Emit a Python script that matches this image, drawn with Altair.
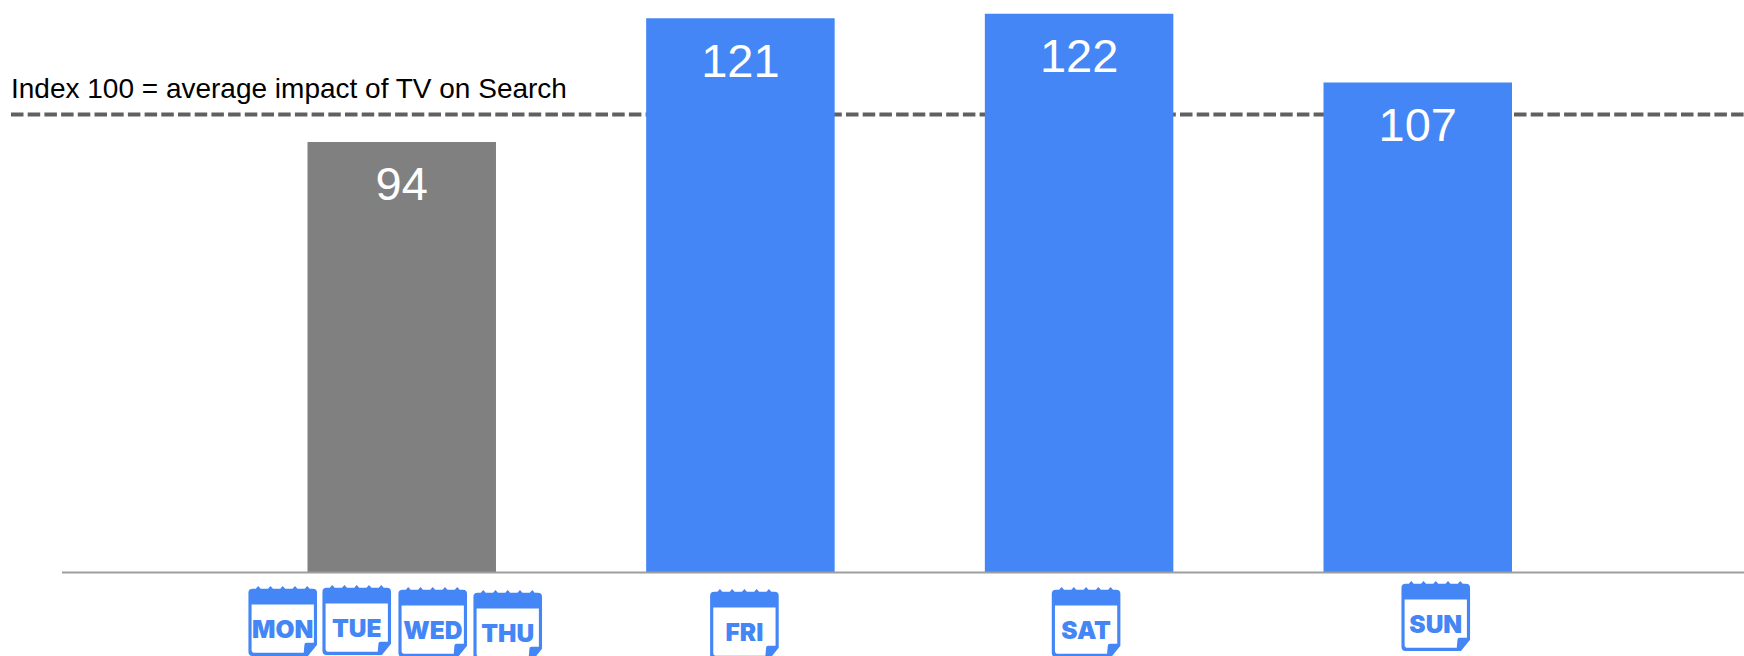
import altair as alt
import pandas as pd

# Bar values and their labels
groups = ["Mon-Thu", "Fri", "Sat", "Sun"]
index_values = [94, 121, 122, 107]
bar_colors = ["#808080", "#4486F5", "#4486F5", "#4486F5"]

# Day badges sitting under the bars
badge_days = ["MON", "TUE", "WED", "THU", "FRI", "SAT", "SUN"]
badge_groups = ["Mon-Thu", "Mon-Thu", "Mon-Thu", "Mon-Thu", "Fri", "Sat", "Sun"]

REFERENCE_INDEX = 100
REFERENCE_NOTE = "Index 100 = average impact of TV on Search"

# Badge placement relative to the centre of each group's band
BADGE_DX = [-119, -45, 31, 106, 4, 7, 18]
BADGE_TOP = [586, 585, 587, 590, 589, 587, 581]

BLUE = "#4486F5"
FONT = "Liberation Sans"

# Calendar page: binding nubs on top, a solid header, a curled lower right corner
CALENDAR = (
    "M-0.98,-0.8 Q-0.98,-0.92 -0.86,-0.92 H-0.77 L-0.7,-1 L-0.63,-0.92 "
    "H-0.42 L-0.35,-1 L-0.28,-0.92 H-0.07 L0,-1 L0.07,-0.92 "
    "H0.28 L0.35,-1 L0.42,-0.92 H0.63 L0.7,-1 L0.77,-0.92 "
    "H0.86 Q0.98,-0.92 0.98,-0.8 V0.68 L0.72,1 H-0.86 Q-0.98,1 -0.98,0.88 Z "
    "M-0.89,-0.47 V0.82 Q-0.89,0.91 -0.8,0.91 H0.6 L0.62,0.68 "
    "Q0.62,0.62 0.68,0.62 H0.89 V-0.47 Z"
)

bars = pd.DataFrame({"group": groups, "value": index_values, "color": bar_colors})

x_scale = alt.Scale(domain=groups, range=[232.4, 1587.1], paddingInner=0.44, paddingOuter=0.22)
y_scale = alt.Scale(domain=[0, 125], range=[572.5, 0], nice=False, zero=True)
x_enc = alt.X("group:N", scale=x_scale, axis=None, sort=groups)
y_enc = alt.Y("value:Q", scale=y_scale, axis=None)

reference = alt.Chart(pd.DataFrame({"value": [REFERENCE_INDEX]})).mark_rule(
    color="#606060", strokeWidth=4, strokeDash=[12.5, 4.2]
).encode(x=alt.value(11), x2=alt.value(1744), y=y_enc)

note = alt.Chart(pd.DataFrame({"value": [REFERENCE_INDEX], "text": [REFERENCE_NOTE]})).mark_text(
    align="left", baseline="alphabetic", font=FONT, fontSize=28, color="#000000", dy=-17
).encode(x=alt.value(11), y=y_enc, text="text:N")

bar_layer = alt.Chart(bars).mark_bar(size=188.5).encode(
    x=x_enc, y=y_enc, y2=alt.datum(0), color=alt.Color("color:N", scale=None)
)

value_labels = alt.Chart(bars).mark_text(
    baseline="alphabetic", font=FONT, fontSize=47, color="#ffffff", dy=58.5
).encode(x=x_enc, y=y_enc, text="value:Q")

baseline = alt.Chart(pd.DataFrame({"value": [0]})).mark_rule(
    color="#9E9E9E", strokeWidth=2
).encode(x=alt.value(62), x2=alt.value(1744), y=y_enc)

layers = [reference, note, bar_layer, value_labels, baseline]

# One calendar badge per day, anchored to the band of its group
for day, group, dx, top in zip(badge_days, badge_groups, BADGE_DX, BADGE_TOP):
    row = pd.DataFrame({"group": [group], "day": [day]})
    layers.append(
        alt.Chart(row).mark_point(
            shape=CALENDAR, filled=True, fill=BLUE, opacity=1, strokeWidth=0, size=4900, xOffset=dx
        ).encode(x=x_enc, y=alt.value(top + 35))
    )
    layers.append(
        alt.Chart(row).mark_text(
            font="Inter", fontWeight=900, fontSize=24.5, color=BLUE, baseline="middle", xOffset=dx
        ).encode(x=x_enc, y=alt.value(top + 45), text="day:N")
    )

chart = (
    alt.layer(*layers)
    .properties(width=1744, height=656, padding=0, autosize=alt.AutoSizeParams(type="none"))
    .configure_view(stroke=None)
)

chart.save("out.html", embed_options={"renderer": "svg", "actions": False})
